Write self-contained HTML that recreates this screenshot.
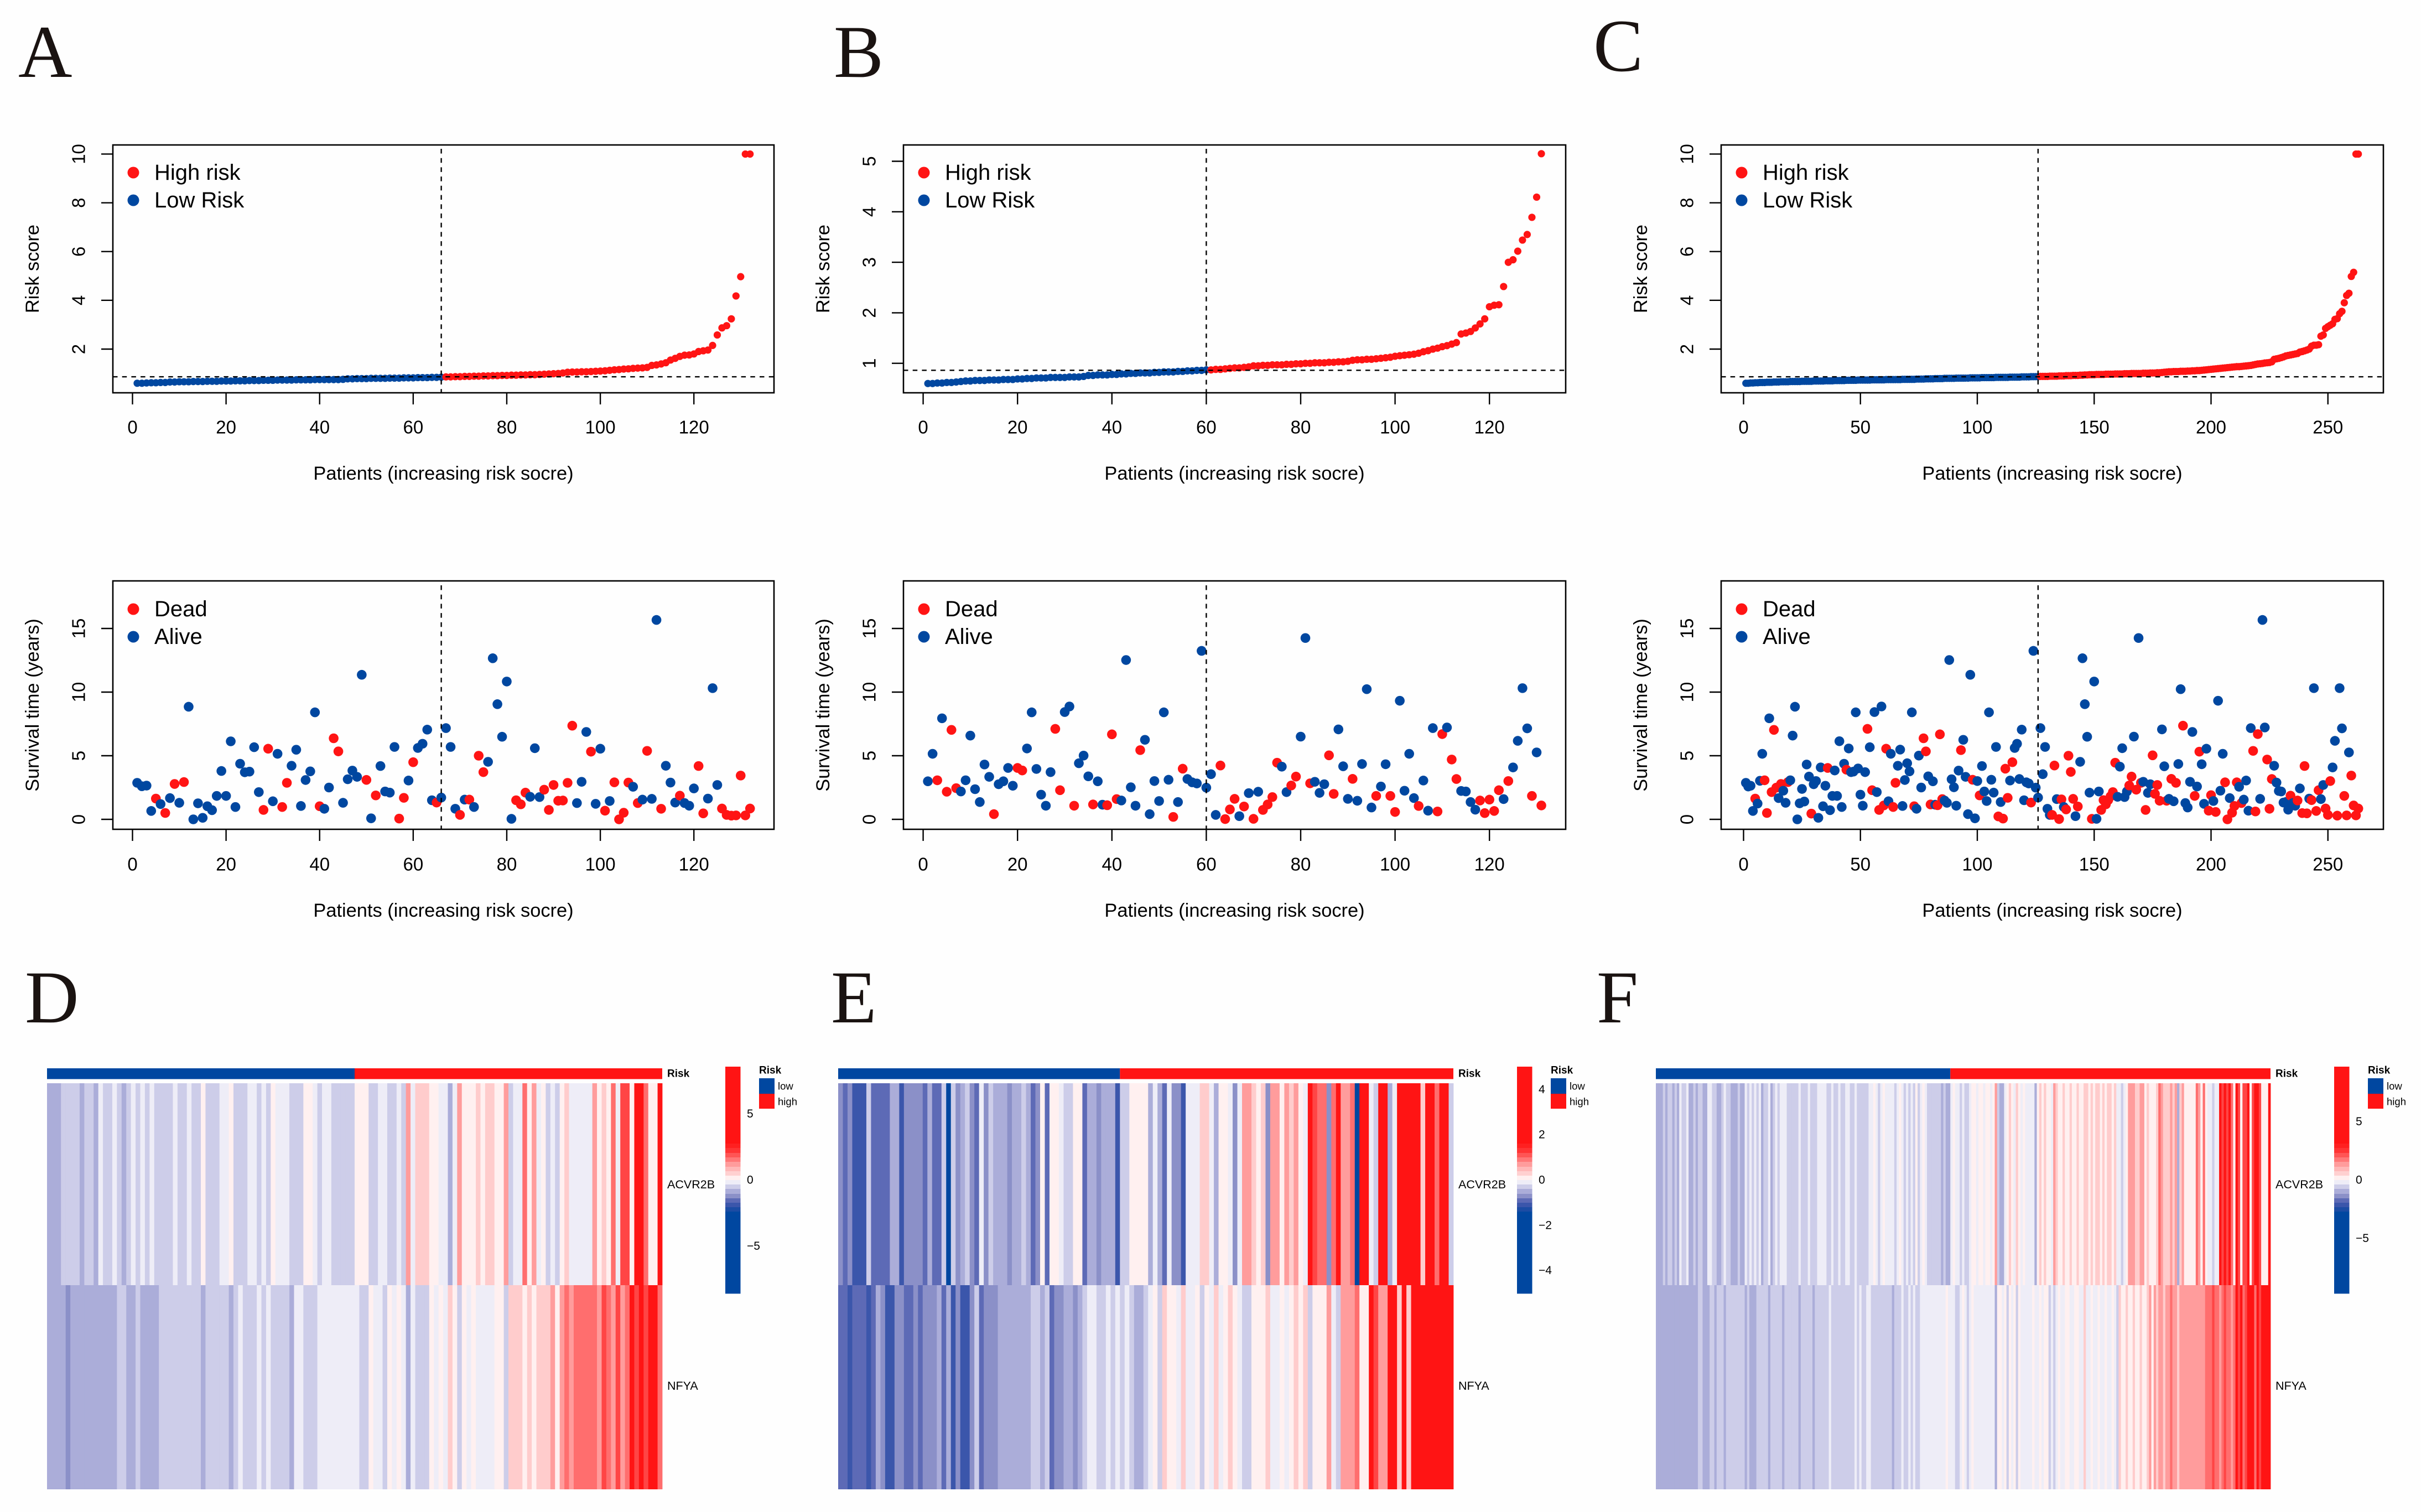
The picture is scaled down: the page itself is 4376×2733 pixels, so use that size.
<!DOCTYPE html>
<html>
<head>
<meta charset="utf-8">
<title>Risk score, survival and heatmap panels</title>
<style>
html,body{margin:0;padding:0;background:#fefefe;}
svg{display:block;}
text{font-family:"Liberation Sans",Arial,sans-serif;fill:#000;}
.letter{font-family:"Liberation Serif","Times New Roman",serif;fill:#1a1311;font-size:135px;}
</style>
</head>
<body>
<svg id="figure" xmlns="http://www.w3.org/2000/svg" width="4376" height="2733" viewBox="0 0 4376 2733">
<rect x="0" y="0" width="4376" height="2733" fill="#fefefe"/>
<text class="letter" x="33" y="139">A</text>
<text class="letter" x="1507" y="139">B</text>
<text class="letter" x="2880" y="128">C</text>
<text class="letter" x="45" y="1848">D</text>
<text class="letter" x="1502" y="1848">E</text>
<text class="letter" x="2886" y="1848">F</text>
</svg>
<script>
// ---------- Scatter data ----------
const xTicksAB = [0,20,40,60,80,100,120];
const xTicksC = [0,50,100,150,200,250];
const scoreTicksAC = [2,4,6,8,10];
const scoreTicksB = [1,2,3,4,5];
const survivalTicks = [0,5,10,15];
const splitA = 66;
const splitB = 60;
const splitC = 126;
const cutoffA = 0.865;
const cutoffB = 0.862;
const cutoffC = 0.865;

const scoreA = [.60,.60,.61,.62,.62,.63,.63,.65,.65,.66,.66,.66,.67,.67,.67,.68,.68,.68,.69,.69,.69,.70,.70,.70,.71,.71,.71,.72,.72,.72,.73,.73,.73,.73,.74,.74,.74,.74,.75,.75,.75,.75,.75,.75,.76,.78,.78,.79,.79,.79,.80,.80,.80,.80,.81,.81,.81,.82,.82,.82,.83,.83,.83,.84,.84,.85,.86,.86,.87,.87,.88,.88,.89,.89,.90,.90,.91,.91,.92,.92,.93,.93,.94,.94,.95,.95,.96,.97,.98,.99,1.00,1.02,1.05,1.06,1.06,1.07,1.07,1.08,1.09,1.10,1.11,1.13,1.15,1.16,1.18,1.19,1.21,1.22,1.23,1.25,1.33,1.35,1.39,1.44,1.55,1.62,1.70,1.75,1.76,1.80,1.90,1.93,1.96,2.15,2.58,2.87,2.96,3.24,4.18,4.97,10,10];

const scoreB = [.60,.60,.61,.61,.62,.62,.63,.64,.65,.65,.66,.66,.66,.67,.67,.67,.68,.68,.68,.69,.69,.70,.70,.71,.71,.71,.72,.72,.72,.72,.73,.73,.73,.74,.76,.76,.77,.77,.77,.78,.78,.79,.79,.80,.80,.81,.81,.81,.82,.82,.83,.83,.83,.84,.84,.85,.85,.86,.86,.87,.87,.88,.88,.89,.90,.91,.91,.92,.93,.95,.95,.96,.96,.97,.97,.97,.98,.98,.99,.99,1.00,1.00,1.01,1.01,1.01,1.02,1.02,1.03,1.03,1.04,1.06,1.07,1.07,1.08,1.08,1.09,1.10,1.11,1.12,1.14,1.15,1.16,1.17,1.18,1.20,1.23,1.25,1.28,1.30,1.33,1.35,1.38,1.41,1.58,1.60,1.63,1.70,1.78,1.88,2.12,2.15,2.16,2.52,3.00,3.05,3.22,3.44,3.55,3.89,4.29,5.15];

const scoreC = [.60,.60,.61,.61,.62,.62,.63,.63,.63,.64,.64,.64,.65,.65,.65,.66,.66,.66,.66,.67,.67,.67,.67,.67,.68,.68,.68,.68,.68,.69,.69,.69,.69,.69,.70,.70,.70,.70,.71,.71,.71,.71,.71,.72,.72,.72,.72,.72,.73,.73,.73,.73,.73,.73,.74,.74,.74,.74,.74,.74,.75,.75,.75,.75,.75,.75,.75,.76,.76,.76,.76,.76,.76,.77,.77,.77,.77,.78,.78,.78,.78,.79,.79,.79,.79,.80,.80,.80,.80,.80,.81,.81,.81,.81,.81,.81,.82,.82,.82,.82,.82,.83,.83,.83,.83,.83,.83,.84,.84,.84,.84,.84,.84,.85,.85,.85,.85,.85,.86,.86,.86,.86,.87,.87,.87,.87,.88,.88,.88,.88,.89,.89,.89,.89,.90,.90,.90,.91,.91,.91,.92,.92,.92,.93,.93,.94,.94,.95,.95,.95,.96,.96,.96,.96,.97,.97,.97,.97,.98,.98,.98,.98,.99,.99,.99,1.00,1.00,1.00,1.00,1.00,1.01,1.01,1.01,1.02,1.02,1.02,1.03,1.03,1.04,1.05,1.06,1.07,1.07,1.08,1.08,1.08,1.09,1.09,1.09,1.10,1.10,1.11,1.11,1.12,1.12,1.13,1.14,1.15,1.16,1.17,1.18,1.19,1.20,1.21,1.22,1.23,1.24,1.25,1.26,1.27,1.28,1.28,1.29,1.30,1.31,1.32,1.33,1.35,1.37,1.39,1.40,1.41,1.43,1.44,1.45,1.48,1.58,1.60,1.62,1.65,1.68,1.72,1.74,1.76,1.78,1.80,1.82,1.88,1.90,1.93,1.96,2.0,2.12,2.16,2.16,2.18,2.53,2.58,2.85,2.92,2.98,3.04,3.22,3.25,3.45,3.55,3.90,4.20,4.29,4.98,5.15,10,10];

const survivalA = [2.87,2.6,2.65,.66,1.63,1.2,.5,1.67,2.78,1.3,2.93,8.85,0,1.26,.12,1.03,.72,1.84,3.8,1.84,6.13,.97,4.37,3.7,3.75,5.67,2.14,.74,5.55,1.42,5.15,.97,2.87,4.21,5.47,1.05,3.09,3.77,8.41,1.03,.83,2.5,6.37,5.34,1.3,3.15,3.83,3.34,11.36,3.1,.08,1.88,4.19,2.19,2.1,5.69,.06,1.69,3.05,4.49,5.61,5.94,7.05,1.5,1.32,1.71,7.17,5.69,.83,.35,1.55,1.55,.97,5.0,3.71,4.52,12.66,9.05,6.49,10.83,.04,1.5,1.18,2.1,1.77,5.59,1.75,2.33,.74,2.7,1.46,1.48,2.87,7.36,1.28,2.95,6.87,5.32,1.22,5.55,.68,1.44,2.91,0,.52,2.89,2.56,1.28,1.55,5.38,1.61,15.67,.83,4.21,2.89,1.32,1.86,1.28,1.07,2.43,4.19,.47,1.63,10.31,2.7,.85,.35,.29,.31,3.44,.31,.85];
const statusA = ("aaaadadada"+"daaaaaaaaa"+"aaaaaaadda"+"addaaaaaad"+"aaddaaaaad"+"adaaaaddad"+"aaaadaaaad"+"adaddaaaaa"+"adddaaaddd"+"ddddaaadaa"+"daddddadad"+"aadaaadaaa"+"ddaaaddddddd").split("");

const survivalB = [2.99,5.15,3.07,7.94,2.17,7.03,2.45,2.19,3.07,6.58,2.37,1.36,4.31,3.34,.41,2.76,2.99,4.04,2.64,4.04,3.84,5.57,8.41,3.96,1.94,1.07,3.71,7.11,2.29,8.43,8.87,1.07,4.41,5.01,3.38,1.17,2.99,1.15,1.11,6.68,1.59,1.48,12.52,2.52,1.07,5.44,6.25,.41,3.01,1.44,8.41,3.11,.19,1.36,3.98,3.17,2.91,2.82,13.24,2.49,3.55,.35,4.23,.02,.78,1.61,.25,1.01,2.06,.04,2.17,.74,1.17,1.75,4.45,4.14,2.14,2.66,3.36,6.5,14.25,2.83,2.95,2.08,2.76,5.03,2.0,7.07,4.17,1.61,3.18,1.46,4.35,10.23,.93,1.84,2.58,4.33,1.84,.58,9.32,2.25,5.15,1.67,1.05,3.05,.68,7.17,.62,6.7,7.22,4.7,3.17,2.23,2.19,1.36,.76,1.48,.49,1.55,.66,2.29,1.59,3.01,4.08,6.17,10.31,7.15,1.84,5.26,1.09];
const statusB = ("aadadddaaa"+"aaaadaaaad"+"daaaaaadda"+"adaaadaadd"+"daaaadaaaa"+"aadadaaaaa"+"aaddddadad"+"addddaadda"+"adaaaddaaa"+"daaaadaadd"+"aaaadaaadd"+"addaaaaddd"+"ddadaaaadad").split("");

const survivalC = [2.87,2.58,2.64,.66,1.63,1.24,3.03,5.15,3.07,.50,7.94,2.14,7.03,2.49,1.67,2.78,2.25,1.30,2.93,3.07,6.58,8.85,0,1.26,2.39,1.40,4.31,3.36,.45,2.76,3.01,.12,4.08,1.03,2.64,4.04,.72,1.84,3.84,1.84,6.14,.97,4.37,3.90,5.57,3.71,3.75,8.41,4.0,1.94,1.07,3.71,7.11,5.67,2.29,8.43,2.14,.74,8.87,1.09,5.55,1.42,5.15,.97,2.87,4.21,5.48,1.05,3.09,4.41,3.77,8.41,1.03,.83,5.01,2.50,6.37,5.34,3.38,1.17,2.99,1.15,1.11,6.68,1.59,1.48,1.30,12.52,3.15,2.52,1.07,3.83,5.44,6.25,3.34,.41,11.36,3.11,.08,3.01,1.88,4.19,2.19,1.44,8.41,3.11,2.10,5.69,.23,1.36,.06,3.98,1.69,3.05,4.49,5.61,5.94,3.17,7.05,1.50,2.91,2.82,1.32,13.24,2.49,1.71,7.17,3.55,5.69,.83,.35,.35,4.23,1.59,.02,1.57,.97,.78,5.0,3.73,1.61,.25,1.01,4.52,12.66,9.05,6.49,2.10,.04,10.83,.04,2.19,.74,1.51,1.18,1.51,1.81,2.14,4.45,1.77,4.14,5.59,1.75,2.19,2.66,3.36,6.5,2.33,14.25,2.87,2.95,.74,2.08,2.76,5.03,2.0,2.70,1.46,7.07,4.17,1.46,1.61,3.18,1.42,2.87,4.35,10.23,7.36,1.28,.93,2.95,6.87,1.84,2.58,5.32,4.33,1.22,5.55,.68,1.90,1.44,.58,9.32,2.25,5.15,2.91,0,1.67,.52,1.05,2.91,2.56,1.28,1.55,3.05,.68,7.17,5.38,.62,6.7,1.61,15.67,7.22,4.7,.83,3.17,4.21,2.89,2.23,2.19,1.32,1.36,.76,1.86,1.28,1.07,1.48,2.43,.49,4.19,.47,1.63,1.51,10.31,.66,2.29,1.59,2.70,.85,.35,3.01,4.08,6.17,.29,10.31,7.15,1.84,.31,5.26,3.44,1.09,.31,.85];
const statusC = ("aaaadaaadd"+"adddadaada"+"aaaaaaaada"+"aaaaadaaaa"+"aaadaaaaaa"+"aadadaadad"+"daaddaaaaa"+"aadaaaddad"+"aadddaaaaa"+"aadaaaadaa"+"daaaaaaada"+"dddadaaaaa"+"aadaaaaaaa"+"addaddaddd"+"dadaaaaada"+"aaddddddda"+"aaaaddadad"+"adaaddddaa"+"dadadaadaa"+"aadadaaadd"+"adaaaddadd"+"dadaaaaddd"+"aaadddaaaa"+"aaadaadadd"+"dadaddaadd"+"daadaaddadddd").split("");

// ---------- Heatmap data (expression level per patient column, -6 to 6) ----------
const geneNames = ["ACVR2B","NFYA"];

const acvrD = [-2,-2,-2,-1,-1,-1,-1,-2,-1,-1,-2,0,-1,-1,0,-1,-2,-1,0,-1,0,-1,0,-1,-1,-1,-1,0,-1,-1,0,-1,-1,1,-1,-1,-1,0,0,1,-1,-1,-1,0,0,-1,0,-1,1,0,0,0,-1,-1,-1,1,1,0,-1,0,0,-1,-1,-1,-1,-1,1,1,1,-1,-1,0,0,-1,-1,0,-1,3,0,2,2,2,1,1,0,0,-2,0,3,1,1,1,2,1,2,2,1,1,3,-1,0,0,4,1,3,0,1,-1,0,-1,1,2,0,0,0,0,0,3,1,2,1,4,0,5,5,1,6,6,4,1,1,6];
const nfyaD = [-2,-2,-2,-2,-3,-2,-2,-2,-2,-2,-2,-2,-2,-2,-2,-1,-1,-2,-2,-1,-2,-2,-2,-2,-1,-1,-1,-1,-1,-1,-1,-1,-1,-2,-1,-1,-1,-1,-1,-2,-1,0,-1,-1,-1,0,-1,0,-1,-1,-1,-1,-2,0,0,-1,-1,-1,0,0,0,0,0,0,0,0,0,-1,-1,1,0,0,-1,1,0,1,0,-2,0,-1,-1,-1,1,0,1,0,2,1,-1,1,0,1,0,0,0,0,1,1,-1,2,2,2,1,2,1,2,2,2,3,1,3,4,3,4,4,4,4,4,3,5,4,3,5,3,4,6,5,6,5,6,6,4];

const acvrE = [-3,-4,-3,-5,-5,-5,-1,-4,-4,-4,-4,-2,-2,-5,-3,-3,-3,-3,-4,-2,-4,-4,-1,-6,-1,-3,-2,-1,-3,-4,0,-3,-1,-2,-2,-2,-3,-2,-2,-1,-2,-4,-3,1,-4,1,1,0,-1,-1,1,1,-4,-2,-2,-3,-2,-2,-2,-5,-1,-1,1,1,1,1,-2,0,-2,-4,0,-3,-3,-5,0,0,0,2,2,0,-2,1,1,0,-3,0,3,3,2,1,2,-3,3,3,1,3,2,3,1,0,6,5,4,4,-3,4,6,3,3,4,-6,6,6,0,-1,6,6,-2,0,6,6,6,6,6,2,6,6,4,6,6,-1];
const nfyaE = [-4,-4,-5,-4,-4,-4,-5,-4,-2,-3,-5,-5,-3,-3,-4,-4,-3,-4,-3,-3,-3,-2,-4,-2,-5,-3,-5,-5,-3,-1,-4,-3,-3,-3,-2,-2,-2,-2,-2,-2,-2,-1,-1,-2,-1,-4,-3,-3,-2,-2,-3,-2,-1,0,0,-1,-1,0,-1,0,-1,0,-1,-2,-2,-1,0,1,-1,2,1,1,0,2,0,0,1,-1,1,0,2,0,1,2,1,0,-1,-1,1,1,1,2,0,0,1,0,1,2,1,2,-1,1,1,1,3,0,-1,3,3,3,4,1,1,6,5,3,3,6,6,2,6,2,6,6,6,6,6,6,6,6,6];

const acvrF = [-2,-2,-2,-1,-2,-1,-1,-2,-1,-2,0,-1,-1,0,-2,-2,-1,-2,-1,-1,-2,-2,0,0,-1,-1,-2,-2,-1,0,-1,-1,-2,-2,-2,-1,-2,-2,0,-1,0,-1,0,-1,0,-2,-1,-1,0,-2,-1,0,-1,0,0,0,-1,-1,-1,-1,-1,0,-1,-1,-1,0,-1,-1,-1,0,0,0,0,-1,-1,0,-1,-1,0,-1,-1,0,0,-1,-1,0,-1,-1,-1,-1,-1,0,0,1,0,-1,0,1,0,0,0,0,-1,0,1,0,-1,0,-1,0,-1,1,-1,0,1,0,-1,-1,-1,-1,-1,-1,-2,-1,-2,-2,0,1,0,0,-1,0,-1,-1,0,1,1,0,1,1,0,1,1,0,1,3,-1,-2,-2,0,1,2,1,0,2,1,0,1,0,0,0,0,-2,1,2,1,2,1,1,0,3,2,1,1,2,1,1,2,1,1,2,1,1,2,2,1,2,1,2,2,1,2,1,2,2,1,2,0,0,-1,0,1,3,3,3,2,2,3,3,1,2,1,1,1,2,4,3,2,2,2,3,2,3,-2,2,3,1,1,1,1,1,4,3,1,4,1,0,0,-1,0,0,6,5,6,5,6,4,1,6,5,1,5,5,6,1,5,6,6,5,1,1,1,6];
const nfyaF = [-2,-2,-2,-2,-2,-2,-2,-2,-2,-2,-2,-2,-2,-2,-2,-2,-2,-2,-1,-1,-2,-2,-2,-1,-1,-2,-1,-1,-1,-2,-1,-1,-1,-1,-1,-1,-1,-1,-2,-1,-2,-2,-2,-1,-1,-1,-1,-1,-2,-1,-1,-1,-1,-1,-2,-1,-1,-1,-1,-1,-1,-2,-1,-1,-1,-1,-1,-2,-1,-1,-1,-1,-1,-1,0,-1,-1,-1,-1,-1,-1,-1,-1,-1,-1,0,-1,0,-1,-1,0,0,-1,-1,-1,-1,-1,-1,-1,-1,-1,-2,-1,-1,-1,0,-1,-1,0,-1,0,-1,-1,0,0,0,0,0,0,0,0,0,0,0,1,0,0,0,-1,-1,0,1,0,-1,0,1,0,0,0,0,0,0,0,0,0,-2,1,1,0,1,-1,1,0,1,-1,1,0,0,0,0,0,1,0,0,1,0,1,1,-1,0,-1,0,1,0,0,1,1,0,0,1,1,0,0,2,0,0,1,0,0,1,0,0,1,0,0,1,0,-1,2,1,1,2,1,1,2,1,1,2,1,1,2,3,1,3,2,3,3,2,3,3,4,3,3,2,3,3,3,3,3,3,3,3,3,3,3,4,4,4,5,4,4,3,4,5,4,4,3,4,6,5,6,4,5,6,6,6,4,6,5,6,6,6,6];

const colorbarTicksD = [5,0,-5];
const colorbarTicksE = [4,2,0,-2,-4];
const colorbarTicksF = [5,0,-5];
const riskGroups = ["low","high"];

// ---------- Styles ----------
const RED = "#ff1414";
const BLUE = "#0047a0";
const DASH = "8.5 8.2";
const levelColors = {"-6":"#0047a0","-5":"#3b56ab","-4":"#5d6ab6","-3":"#8b90c8","-2":"#abadd9","-1":"#cdcde9","0":"#eeedf7","1":"#fff0f0","2":"#ffcccc","3":"#ff9c9c","4":"#ff6e6e","5":"#ff4545","6":"#ff1414"};
const NS = "http://www.w3.org/2000/svg";
const root = document.getElementById("figure");

function make(tag, attrs, parent, txt) {
  const el = document.createElementNS(NS, tag);
  for (const k in attrs) el.setAttribute(k, attrs[k]);
  if (txt !== undefined) el.textContent = txt;
  (parent || root).appendChild(el);
  return el;
}
function levelColor(v) {
  const c = Math.max(-6, Math.min(6, Math.round(v)));
  return levelColors[String(c)];
}
function minusText(v) {
  return v < 0 ? "\u2212" + Math.abs(v) : String(v);
}

// ---------- Scatter panels ----------
function drawAxesFrame(g, box, x, xTicks, tickY, labelY, titleY) {
  xTicks.forEach(function (t) {
    const tick = make("line", {x1:x(t), x2:x(t), y1:box.bottom, y2:box.bottom + 21, stroke:"#000", "stroke-width":2.4}, g);
    
    
    const lab = make("text", {x:x(t), y:labelY, "text-anchor":"middle", "dominant-baseline":"central", "font-size":33}, g, String(t));
    
    
  });
  const title = make("text", {x:(box.left + box.right) / 2, y:titleY, "text-anchor":"middle", "dominant-baseline":"central", "font-size":34.4}, g, "Patients (increasing risk socre)");
  
  
}
function drawYAxis(g, box, y, ticks, titleText) {
  ticks.forEach(function (t) {
    const tick = make("line", {x1:box.left - 21, x2:box.left, y1:y(t), y2:y(t), stroke:"#000", "stroke-width":2.4}, g);
    
    
    const lx = box.left - 62;
    const lab = make("text", {x:lx, y:y(t), transform:"rotate(-90 " + lx + " " + y(t) + ")", "text-anchor":"middle", "dominant-baseline":"central", "font-size":33}, g, String(t));
    
    
  });
  const tx = box.left - 145;
  const ty = (box.top + box.bottom) / 2;
  const title = make("text", {x:tx, y:ty, transform:"rotate(-90 " + tx + " " + ty + ")", "text-anchor":"middle", "dominant-baseline":"central", "font-size":34.3}, g, titleText);
  
  
}
function drawBox(g, box) {
  const frame = make("rect", {x:box.left, y:box.top, width:box.right - box.left, height:box.bottom - box.top, fill:"none", stroke:"#000", "stroke-width":2.6}, g);
  
  
}
function drawLegend(g, box, y1, y2, label1, label2) {
  const d1 = make("circle", {cx:box.left + 37, cy:y1, r:10.5, fill:RED}, g);
  
  
  const t1 = make("text", {x:box.left + 75, y:y1, "dominant-baseline":"central", "font-size":40}, g, label1);
  
  
  const d2 = make("circle", {cx:box.left + 37, cy:y2, r:10.5, fill:BLUE}, g);
  
  
  const t2 = make("text", {x:box.left + 75, y:y2, "dominant-baseline":"central", "font-size":40}, g, label2);
  
  
}
function drawRiskPanel(name, left, right, x0, xUnit, yRef, yRefValue, yUnit, scores, split, cutoff, xTicks, yTicks) {
  const box = {left:left, right:right, top:262, bottom:710};
  const x = function (v) { return x0 + v * xUnit; };
  const y = function (v) { return yRef - (v - yRefValue) * yUnit; };
  const g = make("g", {});
  
  
  scores.forEach(function (s, i) {
    const p = make("circle", {cx:x(i + 1), cy:y(s), r:6.6, fill:(i + 1) <= split ? BLUE : RED}, g);
    
    
  });
  const vl = make("line", {x1:x(split), x2:x(split), y1:269, y2:box.bottom, stroke:"#000", "stroke-width":2.4, "stroke-dasharray":DASH}, g);
  
  
  const hl = make("line", {x1:box.left, x2:box.right, y1:y(cutoff), y2:y(cutoff), stroke:"#000", "stroke-width":2.4, "stroke-dasharray":DASH}, g);
  
  
  drawBox(g, box);
  drawAxesFrame(g, box, x, xTicks, 0, 772, 856);
  drawYAxis(g, box, y, yTicks, "Risk score");
  drawLegend(g, box, 312, 362, "High risk", "Low Risk");
}
function drawSurvivalPanel(name, left, right, x0, xUnit, values, status, split, xTicks) {
  const box = {left:left, right:right, top:1050, bottom:1499};
  const x = function (v) { return x0 + v * xUnit; };
  const y = function (v) { return 1481 - v * 23; };
  const g = make("g", {});
  
  
  values.forEach(function (v, i) {
    const p = make("circle", {cx:x(i + 1), cy:y(v), r:8.8, fill:status[i] === "d" ? RED : BLUE}, g);
    
    
  });
  const vl = make("line", {x1:x(split), x2:x(split), y1:1058, y2:box.bottom, stroke:"#000", "stroke-width":2.4, "stroke-dasharray":DASH}, g);
  
  
  drawBox(g, box);
  drawAxesFrame(g, box, x, xTicks, 0, 1562, 1646);
  drawYAxis(g, box, y, survivalTicks, "Survival time (years)");
  drawLegend(g, box, 1101, 1151, "Dead", "Alive");
}

drawRiskPanel("risk-score-plot-a", 204, 1399, 239.5, 8.456, 631, 2, 44.07, scoreA, splitA, cutoffA, xTicksAB, scoreTicksAC);
drawRiskPanel("risk-score-plot-b", 1633, 2830, 1668.6, 8.53, 656.7, 1, 91.3, scoreB, splitB, cutoffB, xTicksAB, scoreTicksB);
drawRiskPanel("risk-score-plot-c", 3111, 4308, 3151.5, 4.225, 631, 2, 44.07, scoreC, splitC, cutoffC, xTicksC, scoreTicksAC);
drawSurvivalPanel("survival-plot-a", 204, 1399, 239.5, 8.456, survivalA, statusA, splitA, xTicksAB);
drawSurvivalPanel("survival-plot-b", 1633, 2830, 1668.6, 8.53, survivalB, statusB, splitB, xTicksAB);
drawSurvivalPanel("survival-plot-c", 3111, 4308, 3151.5, 4.225, survivalC, statusC, splitC, xTicksC);

// ---------- Heatmap panels ----------
function drawHeatmap(name, left, right, split, rowTop, rowBottom, barLeft, legendLeft, ticks, tickUnit) {
  const g = make("g", {});
  
  
  const n = rowTop.length;
  const w = (right - left) / n;
  const X = function (i) { return left + i * w; };
  const annLow = make("rect", {x:X(0), y:1931, width:split * w, height:19.5, fill:BLUE}, g);
  
  
  const annHigh = make("rect", {x:X(split), y:1931, width:(n - split) * w, height:19.5, fill:RED}, g);
  
  
  rowTop.forEach(function (v, i) {
    const c = make("rect", {x:X(i), y:1958, width:w + 0.4, height:365, fill:levelColor(v)}, g);
    
    
  });
  rowBottom.forEach(function (v, i) {
    const c = make("rect", {x:X(i), y:2323, width:w + 0.4, height:369, fill:levelColor(v)}, g);
    
    
  });
  const riskLabel = make("text", {x:right + 9, y:1941, "dominant-baseline":"central", "font-size":19, "font-weight":"bold"}, g, "Risk");
  
  
  const gene1 = make("text", {x:right + 9, y:2141, "dominant-baseline":"central", "font-size":21.5}, g, geneNames[0]);
  
  
  const gene2 = make("text", {x:right + 9, y:2505, "dominant-baseline":"central", "font-size":21.5}, g, geneNames[1]);
  
  

  // Colour bar (stepped, same band layout in each panel)
  const bands = [[1928,2067,"#ff1414"],[2067,2075,"#ff2020"],[2075,2084,"#ff3434"],[2084,2092,"#ff5555"],[2092,2100,"#ff7878"],[2100,2109,"#ff9c9c"],[2109,2117,"#ffb8b8"],[2117,2125,"#ffd0d0"],[2125,2133,"#fff0f0"],[2133,2141,"#eeedf7"],[2141,2149,"#cdcde9"],[2149,2158,"#abadd9"],[2158,2166,"#8b90c8"],[2166,2174,"#5d6ab6"],[2174,2182,"#3b56ab"],[2182,2190,"#1c4ca4"],[2190,2338,"#0047a0"]];
  bands.forEach(function (b) {
    const r = make("rect", {x:barLeft, y:b[0], width:27.5, height:b[1] - b[0] + 0.4, fill:b[2]}, g);
    
    
  });
  ticks.forEach(function (t) {
    const lab = make("text", {x:barLeft + 39, y:2133 - t * tickUnit, "dominant-baseline":"central", "font-size":21}, g, minusText(t));
    
    
  });
  const legTitle = make("text", {x:legendLeft, y:1935, "dominant-baseline":"central", "font-size":19, "font-weight":"bold"}, g, "Risk");
  
  
  const sw1 = make("rect", {x:legendLeft, y:1949, width:28, height:28, fill:BLUE}, g);
  
  
  const sw2 = make("rect", {x:legendLeft, y:1977, width:28, height:27, fill:RED}, g);
  
  
  const l1 = make("text", {x:legendLeft + 34, y:1963, "dominant-baseline":"central", "font-size":18.5}, g, riskGroups[0]);
  
  
  const l2 = make("text", {x:legendLeft + 34, y:1991, "dominant-baseline":"central", "font-size":18.5}, g, riskGroups[1]);
  
  
}

drawHeatmap("heatmap-d", 85, 1197, splitA, acvrD, nfyaD, 1311, 1372, colorbarTicksD, 23.9);
drawHeatmap("heatmap-e", 1515, 2627, splitB, acvrE, nfyaE, 2742, 2803, colorbarTicksE, 40.9);
drawHeatmap("heatmap-f", 2993, 4104, splitC, acvrF, nfyaF, 4219, 4280, colorbarTicksF, 21.1);
</script>
</body>
</html>
